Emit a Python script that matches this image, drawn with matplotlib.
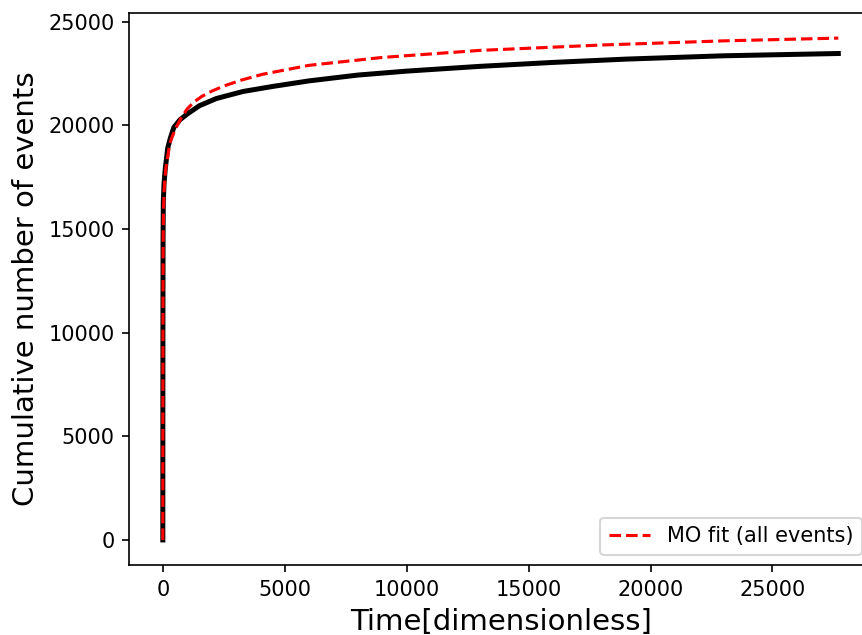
import matplotlib
matplotlib.use("Agg")
import matplotlib.pyplot as plt

t_obs = [0, 2, 5, 10, 20, 50, 100, 200, 300, 450, 700, 1000, 1500, 2200,
         3300, 4500, 6000, 8000, 10000, 13000, 16000, 19000, 23000, 27700]
n_obs = [0, 6000, 11000, 14500, 16300, 17200, 17900, 18900, 19350, 19900,
         20270, 20550, 20950, 21300, 21640, 21880, 22150, 22430, 22620,
         22850, 23040, 23200, 23360, 23470]

# MO fit curve
t_fit = [0, 2, 5, 14, 30, 60, 120, 290, 500, 750, 1000, 1300, 1600, 2000,
         2500, 3200, 4100, 6000, 9000, 13000, 18000, 23000, 27700]
n_fit = [0, 5500, 10000, 14640, 16000, 17000, 17900, 19150, 19800, 20350,
         20800, 21150, 21400, 21650, 21900, 22180, 22470, 22900, 23280,
         23620, 23880, 24080, 24213]

fig = plt.figure(figsize=(862 / 150, 635 / 150), dpi=150)
ax = fig.add_axes([0.1497, 0.1102, 0.862, 0.8693])

ax.plot(t_obs, n_obs, color="black", lw=2.4)
ax.plot(t_fit, n_fit, "r--", lw=1.5, label="MO fit (all events)")

ax.set_xlabel("Time[dimensionless]", fontsize=14)
ax.set_ylabel("Cumulative number of events", fontsize=14)
ax.legend(loc="lower right")

fig.savefig("out.png", dpi=150)
